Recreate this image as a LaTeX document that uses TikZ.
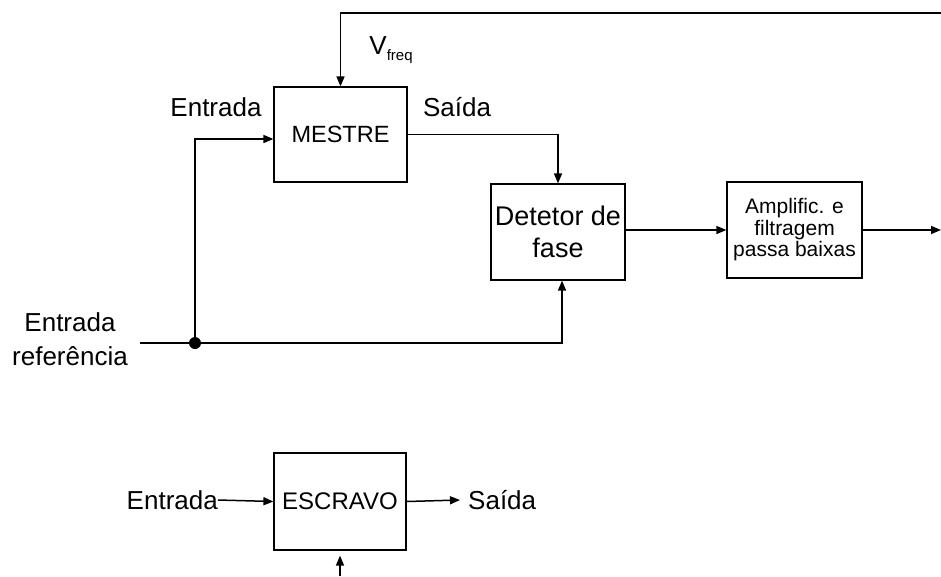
\documentclass[tikz,border=0pt]{standalone}
\usepackage{fontspec}
\setmainfont{Liberation Sans}
\usetikzlibrary{arrows.meta}
\tikzset{
  blk/.style={draw, line width=1.2pt, inner sep=0pt, align=center},
  conn/.style={line width=1.5pt},
  arr/.style={conn, -{Triangle[length=10pt,width=8pt]}},
  lbl/.style={inner sep=0pt, font=\fontsize{26}{34}\selectfont, align=center},
}
\begin{document}
\begin{tikzpicture}[x=1pt,y=-1pt]
\useasboundingbox (0,0) rectangle (941,576);
% blocks
\node[blk, minimum width=133pt, minimum height=95pt, font=\fontsize{23.5}{28}\selectfont] (mestre) at (340.5,134.5) {MESTRE};
\node[blk, minimum width=134pt, minimum height=96pt, font=\fontsize{27}{32}\selectfont] (det) at (558,232) {Detetor de\\fase};
\node[blk, minimum width=135pt, minimum height=96pt, font=\fontsize{21}{21.5}\selectfont] (amp) at (794.5,230) {Amplific. e\\filtragem\\passa baixas};
\node[blk, minimum width=132pt, minimum height=97pt, font=\fontsize{24}{28}\selectfont] (esc) at (340,501.5) {ESCRAVO};
% labels
\node[lbl] (ent1) at (216,107) {Entrada};
\node[lbl] (sai1) at (457,107) {Saída};
\node[lbl] (vf) at (391,50) {V\raisebox{-0.25em}{\fontsize{15}{15}\selectfont freq}};
\node[lbl] (eref) at (70,339) {Entrada\\referência};
\node[lbl, anchor=east] (ent2) at (218,500) {Entrada};
\node[lbl, anchor=west] (sai2) at (468,500) {Saída};
% coordinates
\coordinate (topR) at (941,13);
\coordinate (ampR) at (941,230);
\coordinate (refL) at (140,343);
\coordinate (dotp) at (195,343);
\coordinate (escB) at (340,576);
% connectors
\draw[arr] (topR) -| (mestre.north);
\draw[arr] (amp.east) -- (ampR);
\draw[arr] (det.east |- amp.west) -- (amp.west);
\draw[arr] (mestre.east) -| (det.north);
\draw[conn] (refL) -- (dotp);
\draw[arr] (dotp) -| ([xshift=4pt]det.south);
\draw[arr] (dotp) |- ([yshift=-4.5pt]mestre.west);
\fill (dotp) circle (6pt);
\draw[arr] (ent2.east) -- (esc.west);
\draw[arr] (esc.east) -- ([xshift=-8pt]sai2.west);
\draw[arr] (escB) -- ([yshift=-5pt]esc.south);
\end{tikzpicture}
\end{document}
